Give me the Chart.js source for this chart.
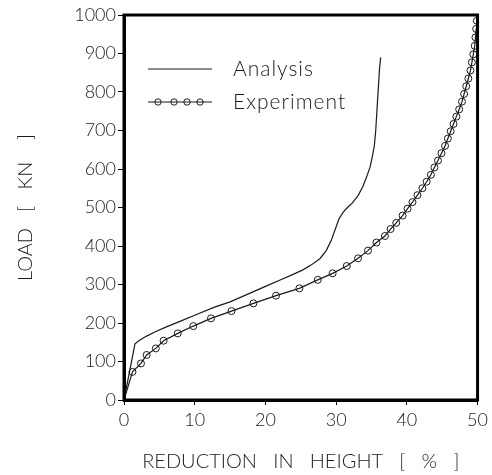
<!DOCTYPE html>
<html>
<head>
<meta charset="utf-8">
<script src="https://cdn.jsdelivr.net/npm/chart.js@4/dist/chart.umd.min.js"></script>
<style>
html,body{margin:0;padding:0;background:#fff;}
#wrap{width:492px;height:475px;}
</style>
</head>
<body>
<div id="wrap"><canvas id="c" width="492" height="475"></canvas></div>
<script>
// Reduction in height [%] vs load [kN]
const analysisX = [0, 1.55, 2.2, 3.2, 4.5, 6, 8, 10, 12.9, 15, 18, 20, 22, 24, 25.3, 26.5, 27.7, 28.6, 29.3, 29.9, 30.4, 31.0, 31.6, 32.3, 33.1, 33.8, 34.3, 34.8, 35.1, 35.4, 35.6, 35.8, 36.0, 36.15, 36.3];
const analysisY = [0, 146, 155, 166, 178, 190, 205, 220, 242, 255, 279, 295, 311, 327, 338, 351, 367, 388, 414, 445, 470, 488, 500, 512, 531, 555, 579, 605, 631, 660, 700, 761, 820, 864, 890];

const experimentX = [0, 1.2, 2.4, 3.2, 4.5, 5.6, 7.6, 9.8, 12.3, 15.2, 18.3, 21.5, 24.8, 27.4, 29.5, 31.5, 33.1, 34.5, 35.7, 36.9, 37.7, 38.5, 39.4, 40.1, 40.8, 41.5, 42.2, 42.8, 43.4, 43.9, 44.4, 44.9, 45.4, 45.8, 46.2, 46.6, 47.0, 47.4, 47.8, 48.1, 48.4, 48.7, 49.0, 49.2, 49.4, 49.6, 49.7, 49.8, 49.9];
const experimentY = [0, 73, 95, 117, 134, 154, 173, 192, 212, 231, 251, 271, 290, 312, 329, 348, 368, 388, 409, 426, 444, 460, 479, 497, 514, 532, 550, 567, 585, 604, 622, 641, 660, 679, 698, 717, 736, 755, 775, 795, 815, 835, 856, 877, 898, 920, 942, 964, 985];

const xTicks = [0, 10, 20, 30, 40, 50];
const yTicks = [0, 100, 200, 300, 400, 500, 600, 700, 800, 900, 1000];
const seriesNames = ['Analysis', 'Experiment'];
const xTitle = 'REDUCTION   IN   HEIGHT   [   %   ]';
const yTitle = 'LOAD   [   KN    ]';

const FONT = 'Lato, "DejaVu Sans", sans-serif';
const INK = '#1a1a1a';

const toPts = (xs, ys) => xs.map((x, i) => ({x: x, y: ys[i]}));

const frame = {
  id: 'frame',
  afterDatasetsDraw(chart) {
    const {ctx, chartArea: a} = chart;
    ctx.save();
    ctx.strokeStyle = '#000';
    ctx.lineWidth = 3;
    ctx.strokeRect(a.left, a.top, a.right - a.left, a.bottom - a.top);
    // legend
    const lx = a.left + 24, lx2 = a.left + 88, tx = a.left + 109;
    const y1 = a.top + 54, y2 = a.top + 87;
    ctx.lineWidth = 1;
    ctx.strokeStyle = INK;
    ctx.beginPath(); ctx.moveTo(lx, y1); ctx.lineTo(lx2, y1); ctx.stroke();
    ctx.beginPath(); ctx.moveTo(lx, y2); ctx.lineTo(lx2, y2); ctx.stroke();
    [34, 50, 63, 76].forEach(dx => {
      ctx.beginPath(); ctx.arc(a.left + dx, y2, 3.2, 0, Math.PI * 2); ctx.stroke();
    });
    ctx.fillStyle = INK;
    ctx.font = '300 21px ' + FONT;
    try { ctx.letterSpacing = '1px'; } catch (e) {}
    ctx.textBaseline = 'middle';
    ctx.textAlign = 'left';
    ctx.fillText(seriesNames[0], tx, y1);
    ctx.fillText(seriesNames[1], tx, y2);
    ctx.restore();
  }
};

new Chart(document.getElementById('c'), {
  type: 'line',
  data: {
    datasets: [
      {
        label: seriesNames[0],
        data: toPts(analysisX, analysisY),
        borderColor: INK,
        borderWidth: 1.2,
        pointRadius: 0,
        tension: 0,
        fill: false
      },
      {
        label: seriesNames[1],
        data: toPts(experimentX, experimentY),
        borderColor: INK,
        borderWidth: 1.2,
        pointRadius: ctx => ctx.dataIndex === 0 ? 0 : 3.5,
        pointBorderColor: INK,
        pointBorderWidth: 1,
        pointBackgroundColor: 'rgba(0,0,0,0)',
        tension: 0,
        fill: false
      }
    ]
  },
  options: {
    responsive: false,
    animation: false,
    devicePixelRatio: 1,
    layout: {padding: {left: 0, right: 14, top: 15, bottom: 0}},
    plugins: {legend: {display: false}, tooltip: {enabled: false}},
    scales: {
      x: {
        type: 'linear',
        min: 0, max: 50,
        afterBuildTicks: s => { s.ticks = xTicks.map(v => ({value: v})); },
        afterFit: s => { s.height = 75; },
        border: {display: true, color: '#000', width: 3},
        grid: {drawOnChartArea: false, drawTicks: true, tickLength: 5, color: '#000', lineWidth: 1},
        ticks: {color: INK, font: {family: FONT, size: 18, weight: 300}, padding: 4, maxRotation: 0,
                callback: v => String(v)},
        title: {display: true, text: xTitle, color: INK, font: {family: FONT, size: 20, weight: 300}, padding: {top: 0, bottom: 1}}
      },
      y: {
        type: 'linear',
        min: 0, max: 1000,
        afterBuildTicks: s => { s.ticks = yTicks.map(v => ({value: v})); },
        afterFit: s => { s.width = 124; },
        border: {display: true, color: '#000', width: 3},
        grid: {drawOnChartArea: false, drawTicks: true, tickLength: 6, color: '#000', lineWidth: 1},
        ticks: {color: INK, font: {family: FONT, size: 18, weight: 300}, padding: 2,
                callback: v => String(v)},
        title: {display: true, text: yTitle, color: INK, font: {family: FONT, size: 20, weight: 300}, padding: {top: 14, bottom: 0}}
      }
    }
  },
  plugins: [frame]
});
</script>
</body>
</html>
